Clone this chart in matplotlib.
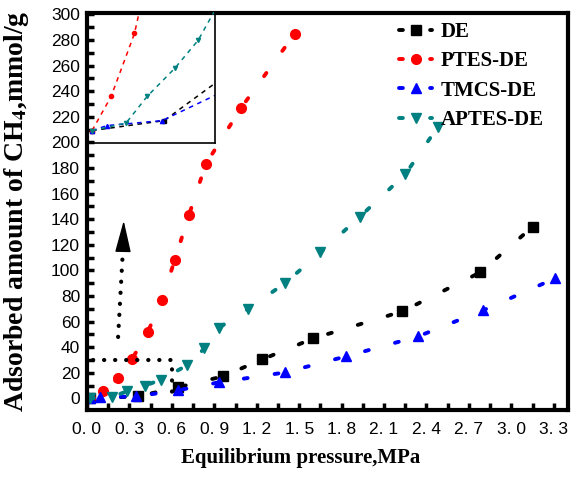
import matplotlib
matplotlib.use('Agg')
import matplotlib.pyplot as plt
from matplotlib.ticker import MultipleLocator

plt.rcParams['mathtext.fontset'] = 'stix'

# data (pressure MPa, adsorbed amount)
de_p = [0.02, 0.36, 0.64, 0.96, 1.24, 1.60, 2.23, 2.78, 3.15]
de_q = [0.0, 1.6, 8.6, 17.2, 30.5, 46.9, 68.0, 98.4, 134.0]

ptes_p = [0.02, 0.11, 0.22, 0.32, 0.43, 0.53, 0.62, 0.72, 0.84, 1.09, 1.47]
ptes_q = [0.0, 5.5, 15.6, 31.0, 52.0, 77.0, 108.0, 143.0, 183.0, 227.0, 285.0]

tmcs_p = [0.02, 0.09, 0.35, 0.64, 0.93, 1.40, 1.83, 2.34, 2.80, 3.31]
tmcs_q = [0.0, 0.8, 1.6, 6.3, 12.5, 20.3, 32.8, 48.4, 68.8, 93.8]

aptes_p = [0.02, 0.18, 0.28, 0.41, 0.52, 0.71, 0.83, 0.93, 1.14, 1.40, 1.65, 1.93, 2.25, 2.48]
aptes_q = [0.0, 1.2, 5.5, 10.0, 14.5, 26.0, 39.0, 55.0, 70.0, 90.0, 114.0, 142.0, 175.0, 212.0]

series = [
    ('DE', de_p, de_q, 'black', 's'),
    ('PTES-DE', ptes_p, ptes_q, 'red', 'o'),
    ('TMCS-DE', tmcs_p, tmcs_q, 'blue', '^'),
    ('APTES-DE', aptes_p, aptes_q, '#008080', 'v'),
]

xticks = [0.0, 0.3, 0.6, 0.9, 1.2, 1.5, 1.8, 2.1, 2.4, 2.7, 3.0, 3.3]
yticks = list(range(0, 301, 20))

serif = 'Liberation Serif'
sans = 'Liberation Sans'

fig = plt.figure(figsize=(5.78, 4.84), dpi=100)
ax = fig.add_axes([0.1505, 0.153, 0.832, 0.820])

for name, p, q, c, m in series:
    ax.plot(p, q, linestyle=(0, (1.0, 7)), lw=2.8, color=c, marker=m,
            markersize=7, label=name, dash_capstyle='round')

ax.set_xlim(0, 3.4)
ax.set_ylim(-9, 301)
ax.set_xticks(xticks)
ax.set_xticklabels([f'{v:.1f}'.replace('.', '. ') for v in xticks],
                   fontfamily=sans, fontsize=12.5)
ax.set_yticks(yticks)
ax.set_yticklabels([str(v) for v in yticks], fontfamily=sans, fontsize=12.5)
ax.xaxis.set_minor_locator(MultipleLocator(0.15))
ax.yaxis.set_minor_locator(MultipleLocator(10))
ax.tick_params(which='both', direction='in', width=2.5, length=5,
               top=False, right=False)
ax.tick_params(axis='x', which='major', pad=9)
ax.tick_params(axis='y', which='major', pad=5)
for s in ax.spines.values():
    s.set_linewidth(3)

ax.set_xlabel('Equilibrium pressure,MPa', fontfamily=serif,
              fontweight='bold', fontsize=15)
ax.xaxis.set_label_coords(0.445, -0.095)
ax.set_ylabel(r'Adsorbed amount of CH$_{\mathbf{4}}$,mmol/g', fontfamily=serif,
              fontweight='bold', fontsize=20)
ax.yaxis.set_label_coords(-0.117, 0.5)

leg = ax.legend(loc='upper left', bbox_to_anchor=(0.61, 1.025), frameon=False,
                prop={'family': serif, 'weight': 'bold', 'size': 15},
                handlelength=1.6, handletextpad=0.4, labelspacing=0.45,
                numpoints=1)

# zoom box and arrow
ax.plot([0.04, 0.6, 0.6], [30, 30, -3], color='black', linestyle=(0, (0.05, 2.6)),
        lw=3, dash_capstyle='round')
ax.plot([0.22, 0.255], [48, 118], color='black', linestyle=(0, (0.05, 2.6)),
        lw=3, dash_capstyle='round')
ax.annotate('', xy=(0.26, 141), xytext=(0.255, 117),
            arrowprops=dict(arrowstyle='-|>,head_width=0.5,head_length=2.0',
                            color='black', lw=1))

# inset
ins = fig.add_axes([0.152, 0.7045, 0.22, 0.27])
ins.patch.set_alpha(0)
for name, p, q, c, m in series:
    ins.plot(p, q, linestyle=(0, (3, 3)), lw=1.1, color=c, marker=m,
             markersize=3)
ins.set_xlim(0, 0.6)
ins.set_ylim(-2, 19)
ins.set_xticks([])
ins.set_yticks([])
ins.spines['top'].set_visible(False)
ins.spines['left'].set_visible(False)
ins.spines['right'].set_linewidth(1.2)
ins.spines['bottom'].set_linewidth(1.2)

fig.savefig('out.png', dpi=100)
